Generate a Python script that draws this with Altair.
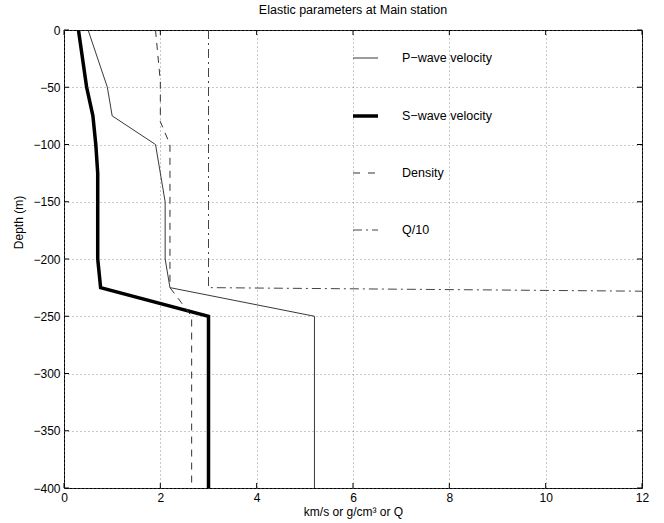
import altair as alt
import pandas as pd

# ---------------- data ----------------
p_depth = [0, -50, -75, -100, -150, -200, -225, -250, -400]
p_vel = [0.5, 0.9, 1.0, 1.9, 2.1, 2.1, 2.2, 5.2, 5.2]

s_depth = [0, -50, -75, -100, -125, -200, -225, -250, -400]
s_vel = [0.3, 0.47, 0.6, 0.66, 0.7, 0.7, 0.76, 3.0, 3.0]

d_depth = [0, -45, -80, -100, -225, -250, -400]
d_val = [1.9, 2.0, 2.0, 2.2, 2.2, 2.65, 2.65]

q_depth = [0, -225, -250, -400]
q_val = [3.0, 3.0, 75.0, 75.0]

legend_labels = ["P\u2212wave velocity", "S\u2212wave velocity", "Density", "Q/10"]
x_ticks = [0, 2, 4, 6, 8, 10, 12]
y_ticks = [-400, -350, -300, -250, -200, -150, -100, -50, 0]

W, H = 578, 458
FONT = "Liberation Sans"


def series(xs, ys):
    return pd.DataFrame({"v": xs, "depth": ys, "i": list(range(len(xs)))})


xscale = alt.Scale(domain=[0, 12], nice=False, zero=False)
yscale = alt.Scale(domain=[-400, 0], nice=False, zero=False)

xaxis = alt.Axis(values=x_ticks, title="km/s or g/cm\u00b3 or Q", grid=True,
                 gridDash=[1, 3], gridColor="#777", gridWidth=0.8,
                 ticks=False, domain=False, labelPadding=4, titlePadding=3,
                 labelFontSize=12, titleFontSize=12, labelFont=FONT,
                 titleFont=FONT, labelColor="black", titleColor="black",
                 titleFontWeight="normal", labelFlush=False)
yaxis = alt.Axis(values=y_ticks, title="Depth (m)", grid=True,
                 gridDash=[1, 3], gridColor="#777", gridWidth=0.8,
                 ticks=False, domain=False, labelPadding=4, titlePadding=7,
                 titleY=192,
                 labelFontSize=12, titleFontSize=12, labelFont=FONT,
                 titleFont=FONT, labelColor="black", titleColor="black",
                 titleFontWeight="normal", labelFlush=False)

X = lambda f: alt.X(f, scale=xscale, axis=xaxis)
Y = lambda f: alt.Y(f, scale=yscale, axis=yaxis)


def line_layer(df, color, width, dash=None):
    kw = dict(color=color, strokeWidth=width, clip=True)
    if dash:
        kw["strokeDash"] = dash
    return alt.Chart(df).mark_line(**kw).encode(
        x=X("v:Q"), y=Y("depth:Q"), order="i:Q")


p_layer = line_layer(series(p_vel, p_depth), "#222", 0.9)
s_layer = line_layer(series(s_vel, s_depth), "black", 3.5)
d_layer = line_layer(series(d_val, d_depth), "#333", 1.0, dash=[7, 6])
q_layer = line_layer(series(q_val, q_depth), "#444", 1.0, dash=[9, 4, 2, 4])

# inward tick marks on all four sides
xt = pd.DataFrame({"v": x_ticks})
yt = pd.DataFrame({"depth": y_ticks})
ticks_bottom = alt.Chart(xt).mark_rule(color="black", strokeWidth=1).encode(
    x=X("v:Q"), y=alt.value(H - 5), y2=alt.value(H))
ticks_top = alt.Chart(xt).mark_rule(color="black", strokeWidth=1).encode(
    x=X("v:Q"), y=alt.value(0), y2=alt.value(5))
ticks_left = alt.Chart(yt).mark_rule(color="black", strokeWidth=1).encode(
    y=Y("depth:Q"), x=alt.value(0), x2=alt.value(5))
ticks_right = alt.Chart(yt).mark_rule(color="black", strokeWidth=1).encode(
    y=Y("depth:Q"), x=alt.value(W - 5), x2=alt.value(W))

# hand-placed legend inside the plot (as in the reference)
leg_rows = [28, 86, 143, 200]
leg_styles = [
    dict(color="#222", strokeWidth=0.9),
    dict(color="black", strokeWidth=3.5),
    dict(color="#333", strokeWidth=1.0, strokeDash=[7, 8]),
    dict(color="#444", strokeWidth=1.0, strokeDash=[9, 4, 2, 4]),
]
legend_layers = []
for lab, yy, sty in zip(legend_labels, leg_rows, leg_styles):
    dfl = pd.DataFrame({"label": [lab]})
    legend_layers.append(
        alt.Chart(dfl).mark_rule(**sty).encode(
            x=alt.value(289), x2=alt.value(314), y=alt.value(yy)))
    legend_layers.append(
        alt.Chart(dfl).mark_text(align="left", baseline="middle", font=FONT,
                                 fontSize=12.5, color="black").encode(
            x=alt.value(338), y=alt.value(yy), text="label:N"))

chart = alt.layer(
    p_layer, s_layer, d_layer, q_layer,
    ticks_bottom, ticks_top, ticks_left, ticks_right,
    *legend_layers,
).properties(
    width=W, height=H,
    title=alt.TitleParams("Elastic parameters at Main station", font=FONT,
                          fontSize=12.5, fontWeight="normal", color="black",
                          anchor="middle", offset=8),
    padding={"left": 64, "top": 30, "right": 22, "bottom": 35},
    autosize="none",
    background="white",
).configure_view(
    stroke="black", strokeWidth=1
)

chart.save("out.html", embed_options={"renderer": "svg", "actions": False})
